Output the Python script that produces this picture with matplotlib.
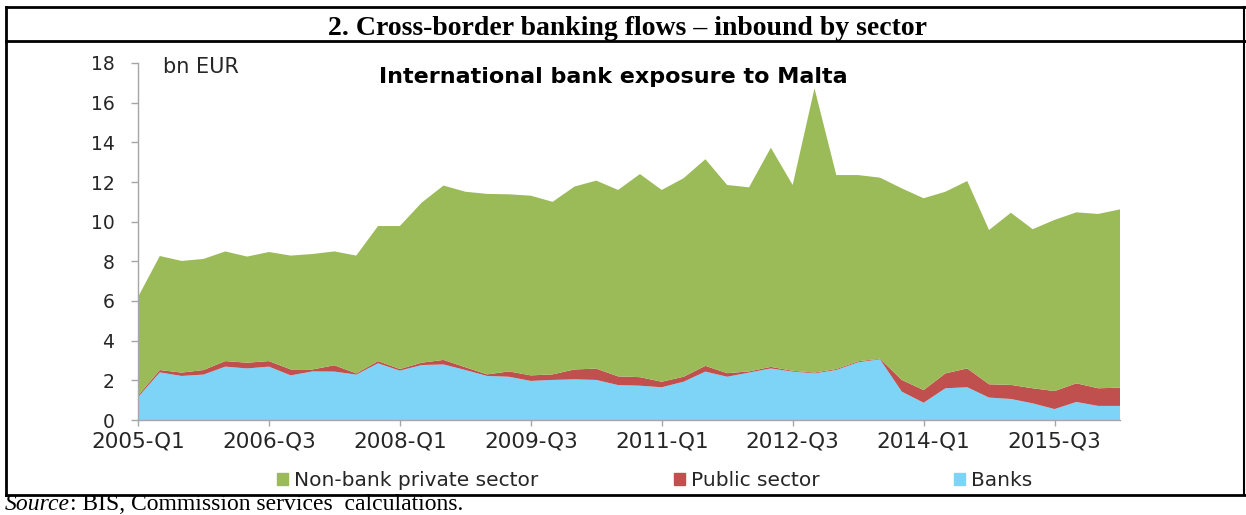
import numpy as np
import matplotlib.pyplot as plt
from matplotlib.lines import Line2D
from matplotlib.patches import Patch

# quarterly categories, 2005-Q1 .. 2016-Q2
quarters = [f'{y}-Q{q}' for y in range(2005, 2017) for q in range(1, 5)][:46]
tick_labels = ['2005-Q1', '2006-Q3', '2008-Q1', '2009-Q3',
               '2011-Q1', '2012-Q3', '2014-Q1', '2015-Q3']

# bn EUR
banks = [1.15, 2.40, 2.22, 2.29, 2.69, 2.60, 2.69, 2.25, 2.45, 2.44,
         2.29, 2.86, 2.49, 2.77, 2.80, 2.52, 2.22, 2.18, 1.97, 2.02,
         2.05, 2.02, 1.76, 1.73, 1.65, 1.93, 2.44, 2.18, 2.39, 2.60,
         2.44, 2.35, 2.52, 2.91, 3.06, 1.43, 0.87, 1.60, 1.65, 1.13,
         1.06, 0.84, 0.55, 0.91, 0.71, 0.71]
public = [0.08, 0.12, 0.17, 0.23, 0.28, 0.29, 0.28, 0.30, 0.10, 0.32,
          0.06, 0.11, 0.08, 0.12, 0.23, 0.14, 0.08, 0.27, 0.28, 0.28,
          0.50, 0.57, 0.44, 0.43, 0.28, 0.25, 0.29, 0.18, 0.06, 0.08,
          0.04, 0.04, 0.05, 0.05, 0.03, 0.59, 0.64, 0.75, 0.95, 0.67,
          0.71, 0.76, 0.91, 0.94, 0.89, 0.92]
nonbank = [4.97, 5.75, 5.63, 5.60, 5.53, 5.35, 5.50, 5.74, 5.82, 5.74,
           5.94, 6.81, 7.21, 8.07, 8.79, 8.85, 9.10, 8.93, 9.06, 8.70,
           9.22, 9.48, 9.40, 10.24, 9.67, 10.01, 10.42, 9.49, 9.28, 11.05,
           9.37, 14.33, 9.78, 9.39, 9.13, 9.66, 9.67, 9.16, 9.45, 7.78,
           8.68, 8.02, 8.63, 8.62, 8.79, 8.99]

green = '#9bbb59'
red = '#c0504d'
blue = '#7dd4f7'

W, H = 1246, 515
plt.rcParams['font.family'] = ['DejaVu Sans']
fig = plt.figure(figsize=(W / 100, H / 100), dpi=100)


def fx(px):
    return px / W


def fy(py):
    return 1 - py / H


def frame_line(xs, ys, lw=1.5):
    fig.add_artist(Line2D([fx(v) for v in xs], [fy(v) for v in ys],
                          color='black', lw=lw, transform=fig.transFigure))


ax = fig.add_axes([fx(138), fy(420), fx(1120) - fx(138), fy(63) - fy(420)])
x = np.arange(len(quarters))
ax.stackplot(x, banks, public, nonbank, colors=[blue, red, green],
             linewidth=0)
ax.set_xlim(0, len(quarters) - 1)
ax.set_ylim(0, 18)
ax.set_yticks(range(0, 19, 2))
ax.set_xticks([quarters.index(t) for t in tick_labels])
ax.set_xticklabels(tick_labels)
for s in ['top', 'right']:
    ax.spines[s].set_visible(False)
for s in ['left', 'bottom']:
    ax.spines[s].set_color('#a6a6a6')
    ax.spines[s].set_linewidth(1)
ax.tick_params(axis='y', length=5, width=1, color='#a6a6a6', pad=12,
               labelsize=13.5, labelcolor='#262626')
ax.tick_params(axis='x', length=4, width=1, color='#a6a6a6', pad=4,
               labelsize=15.5, labelcolor='#262626')

fig.text(fx(163), fy(67), 'bn EUR', fontsize=15, color='#262626',
         ha='left', va='center')
fig.text(fx(613), fy(77), 'International bank exposure to Malta',
         fontsize=16, fontweight='bold', color='black',
         ha='center', va='center')

handles = [Patch(color=green, label='Non-bank private sector'),
           Patch(color=red, label='Public sector'),
           Patch(color=blue, label='Banks')]
fig.legend(handles=handles, loc='center', bbox_to_anchor=(fx(655), fy(481)),
           ncol=3, frameon=False, fontsize=14.5, handlelength=0.55,
           handleheight=0.55, handletextpad=0.3, columnspacing=6.7,
           borderpad=0, labelcolor='#262626')

# document frame around the chart
frame_line([6, W], [7, 7], 2)
frame_line([6, W], [41, 41], 2)
frame_line([6, W], [495, 495], 2)
frame_line([6, 6], [7, 495], 2)
frame_line([W - 2, W - 2], [7, 495], 1.5)

fig.text(fx(627), fy(35), '2. Cross-border banking flows \u2013 inbound by sector',
         family='Liberation Serif', fontweight='bold', fontsize=20,
         ha='center', va='baseline')

src = fig.text(fx(5), fy(510), 'Source', family='Liberation Serif',
               style='italic', fontsize=17, va='baseline')
fig.canvas.draw()
bb = src.get_window_extent()
fig.text(bb.x1 / fig.bbox.width, fy(510), ': BIS, Commission services  calculations.',
         family='Liberation Serif', fontsize=17, va='baseline')

fig.savefig('out.png', dpi=100)
